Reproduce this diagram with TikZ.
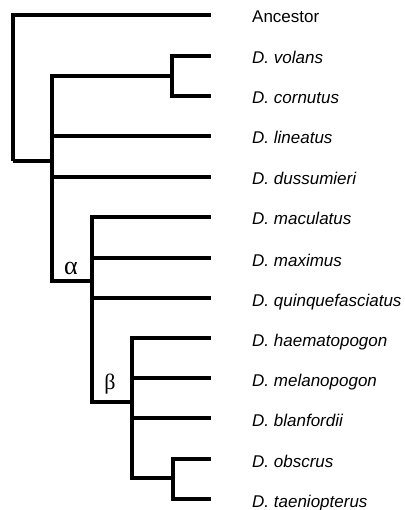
\documentclass[tikz,border=0pt]{standalone}
\usepackage{fontspec}
\setmainfont{Liberation Sans}
\newfontfamily\greekfont{Liberation Serif}
\begin{document}
\begin{tikzpicture}[x=1pt,y=-1pt,
  branch/.style={line width=4.3pt, line join=miter},
  leaf/.style={anchor=base west, inner sep=0pt, font=\fontsize{17}{20}\selectfont},
  sp/.style={leaf, font=\fontsize{17}{20}\selectfont\itshape},
  glabel/.style={inner sep=0pt, font=\fontsize{26}{28}\selectfont\greekfont}]
\useasboundingbox (0,0) rectangle (404,510);
% internal nodes
\coordinate (r) at (13,161);
\coordinate (n1) at (52,161);
\coordinate (vc) at (172,76);
\coordinate (al) at (92,281);
\coordinate (be) at (132,402);
\coordinate (ob) at (173,478);
% tips
\coordinate (t1) at (211,15);
\coordinate (t2) at (211,56);
\coordinate (t3) at (211,96);
\coordinate (t4) at (211,136);
\coordinate (t5) at (211,177);
\coordinate (t6) at (211,217);
\coordinate (t7) at (211,258);
\coordinate (t8) at (211,298);
\coordinate (t9) at (211,338);
\coordinate (t10) at (211,378);
\coordinate (t11) at (211,418);
\coordinate (t12) at (211,459);
\coordinate (t13) at (211,499);
% labels
\node[leaf] (l1) at (252,23) {Ancestor};
\node[sp] (l2) at (252,64) {D. volans};
\node[sp] (l3) at (252,104) {D. cornutus};
\node[sp] (l4) at (252,144) {D. lineatus};
\node[sp] (l5) at (252,185) {D. dussumieri};
\node[sp] (l6) at (252,225) {D. maculatus};
\node[sp] (l7) at (252,266) {D. maximus};
\node[sp] (l8) at (252,306) {D. quinquefasciatus};
\node[sp] (l9) at (252,346) {D. haematopogon};
\node[sp] (l10) at (252,386) {D. melanopogon};
\node[sp] (l11) at (252,426) {D. blanfordii};
\node[sp] (l12) at (252,467) {D. obscrus};
\node[sp] (l13) at (252,507) {D. taeniopterus};
\node[glabel] (alpha) at (71,268) {α};
\node[glabel, font=\fontsize{22}{24}\selectfont\greekfont] (beta) at (110,384) {β};
% branches
\draw[branch] (r) |- (t1);
\draw[branch] (r) -- (n1);
\draw[branch] (n1) |- (vc);
\draw[branch] (vc) |- (t2);
\draw[branch] (vc) |- (t3);
\draw[branch] (n1) |- (t4);
\draw[branch] (n1) |- (t5);
\draw[branch] (n1) |- (al);
\draw[branch] (al) |- (t6);
\draw[branch] (al) |- (t7);
\draw[branch] (al) |- (t8);
\draw[branch] (al) |- (be);
\draw[branch] (be) |- (t9);
\draw[branch] (be) |- (t10);
\draw[branch] (be) |- (t11);
\draw[branch] (be) |- (ob);
\draw[branch] (ob) |- (t12);
\draw[branch] (ob) |- (t13);
\end{tikzpicture}
\end{document}
